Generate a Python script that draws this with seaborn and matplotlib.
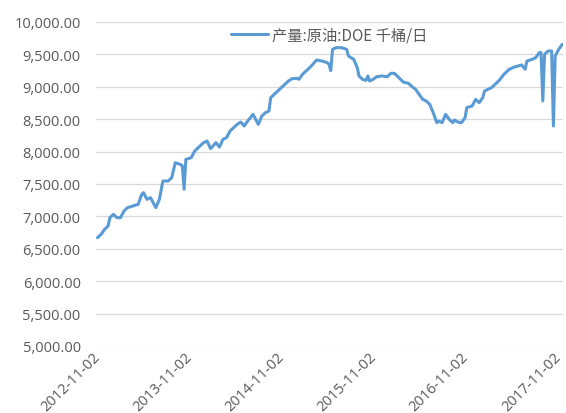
import matplotlib
matplotlib.use("Agg")
import matplotlib.pyplot as plt
import matplotlib.transforms as mtransforms
from matplotlib.ticker import FuncFormatter, MultipleLocator
import pandas as pd
import seaborn as sns

# Weekly US crude output (thousand barrels per day), sampled by week number
# counted from the first report week 2012-11-02.
start_week = "2012-11-02"
obs_week = [
    0, 2, 4, 6, 7, 9, 11, 13, 15, 17, 20, 23, 25, 26, 28, 30, 33, 35, 37, 40,
    42, 44, 47, 48, 49, 50, 53, 55, 58, 60, 62, 64, 67, 69, 71, 73, 75, 77, 79, 81,
    83, 85, 88, 90, 91, 93, 95, 97, 98, 101, 104, 106, 108, 110, 113, 114, 116, 119, 121, 124,
    127, 130, 131, 132, 133, 135, 138, 141, 142, 145, 147, 148, 150, 152, 153, 154, 156, 158, 161, 164,
    166, 168, 170, 173, 176, 178, 180, 182, 184, 186, 188, 190, 192, 193, 195, 197, 199, 201, 202, 204,
    206, 208, 209, 212, 214, 216, 218, 219, 221, 223, 225, 227, 230, 233, 236, 238, 240, 242, 243, 246,
    248, 250, 251, 252, 253, 255, 257, 258, 259, 261, 263,
]
output_kbd = [
    6672, 6723, 6800, 6852, 6980, 7032, 6980, 6980, 7083, 7135, 7160, 7186, 7340, 7366, 7263, 7289, 7135, 7263, 7546, 7546,
    7598, 7829, 7800, 7780, 7420, 7880, 7906, 8009, 8086, 8138, 8163, 8045, 8138, 8071, 8189, 8215, 8318, 8369, 8420, 8456,
    8395, 8472, 8575, 8472, 8420, 8549, 8600, 8626, 8832, 8909, 8987, 9038, 9089, 9125, 9130, 9115, 9192, 9270, 9321, 9414,
    9398, 9372, 9347, 9250, 9578, 9604, 9604, 9578, 9475, 9424, 9295, 9167, 9115, 9100, 9167, 9089, 9115, 9156, 9167, 9156,
    9208, 9208, 9156, 9074, 9053, 9002, 8961, 8884, 8807, 8781, 8729, 8601, 8447, 8472, 8447, 8575, 8498, 8447, 8488, 8456,
    8447, 8524, 8678, 8704, 8807, 8755, 8832, 8935, 8961, 8987, 9038, 9089, 9192, 9270, 9306, 9321, 9337, 9270, 9398, 9424,
    9450, 9527, 9527, 8781, 9501, 9553, 9553, 8395, 9475, 9578, 9655,
]
series_name = "产量:原油:DOE 千桶/日"
tick_dates = ["2012-11-02", "2013-11-02", "2014-11-02", "2015-11-02", "2016-11-02", "2017-11-02"]

base = pd.Timestamp(start_week)
df = pd.DataFrame({
    "date": [base + pd.Timedelta(weeks=w) for w in obs_week],
    "value": output_kbd,
})

sns.set_theme(style="white")
plt.rcParams["font.family"] = ["Open Sans", "Noto Sans CJK SC", "DejaVu Sans"]

fig = plt.figure(figsize=(5.66, 4.14), dpi=100)
ax = fig.add_axes([96 / 566, 67 / 414, (563 - 96) / 566, (391 - 67) / 414])

sns.lineplot(data=df, x="date", y="value", ax=ax, color="#5B9BD5",
             linewidth=2.2, label=series_name)

ax.set_ylim(5000, 10000)
ax.yaxis.set_major_locator(MultipleLocator(500))
ax.yaxis.set_major_formatter(FuncFormatter(lambda v, _: f"{v:,.2f}"))
ax.set_xlim(base - pd.Timedelta(days=6), pd.Timestamp("2017-11-20"))

ticks = pd.to_datetime(tick_dates)
ax.set_xticks(ticks)
ax.set_xticklabels([t.strftime("%Y-%m-%d") for t in ticks])
shift = mtransforms.ScaledTranslation(-4 / 100, 0, fig.dpi_scale_trans)
for lab in ax.get_xticklabels():
    lab.set_rotation(45)
    lab.set_ha("right")
    lab.set_va("center")
    lab.set_rotation_mode("anchor")
    lab.set_transform(lab.get_transform() + shift)

ax.grid(axis="y", color="#d9d9d9", linewidth=0.9)
ax.grid(axis="x", visible=False)
ax.set_axisbelow(True)
for s in ax.spines.values():
    s.set_visible(False)
ax.tick_params(axis="both", length=0, colors="#595959", labelsize=10.5)
ax.tick_params(axis="y", pad=11)
ax.tick_params(axis="x", pad=6)
ax.set_xlabel("")
ax.set_ylabel("")

leg = ax.legend(loc="upper center", bbox_to_anchor=(0.5, 1.03), frameon=False,
                fontsize=11, handlelength=2.4, handletextpad=0.3)
for t in leg.get_texts():
    t.set_color("#595959")
    t.set_family(["Noto Sans CJK SC", "DejaVu Sans"])

fig.savefig("out.png", dpi=100, facecolor="white")
